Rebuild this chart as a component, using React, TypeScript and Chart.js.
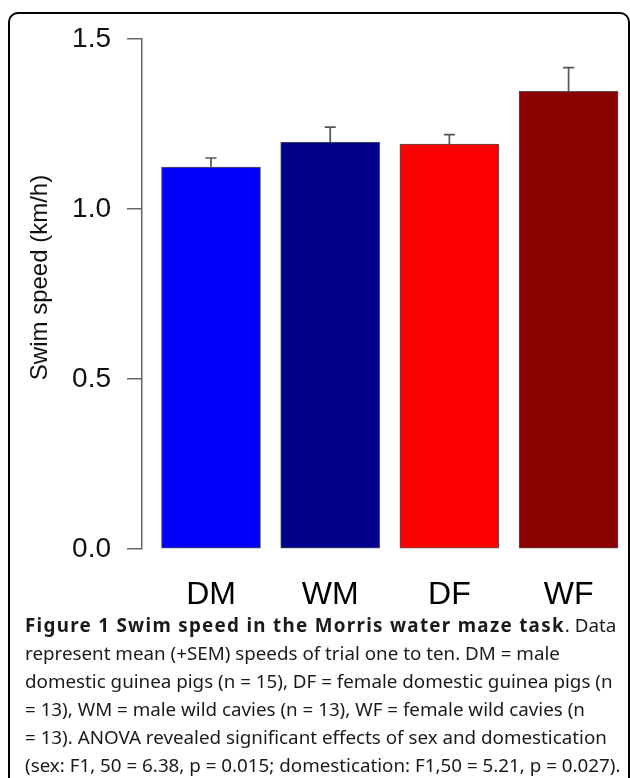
import React, { useEffect, useRef } from 'react';
import { Chart, registerables } from 'chart.js';

Chart.register(...registerables);

const categories = ['DM', 'WM', 'DF', 'WF'];
const means = [1.123, 1.197, 1.191, 1.346];
const sems = [0.027, 0.044, 0.028, 0.07];
const barColors = ['#0000FF', '#00008B', '#FF0000', '#8B0000'];
const yTickValues = [0, 0.5, 1.0, 1.5];
const yTitle = 'Swim speed (km/h)';

const captionLines: { bold?: string; text: string }[] = [
  { bold: 'Figure 1 Swim speed in the Morris water maze task', text: '. Data' },
  { text: 'represent mean (+SEM) speeds of trial one to ten. DM = male' },
  { text: 'domestic guinea pigs (n = 15), DF = female domestic guinea pigs (n' },
  { text: '= 13), WM = male wild cavies (n = 13), WF = female wild cavies (n' },
  { text: '= 13). ANOVA revealed significant effects of sex and domestication' },
  { text: '(sex: F1, 50 = 6.38, p = 0.015; domestication: F1,50 = 5.21, p = 0.027).' },
];

const errorBarPlugin = {
  id: 'errorBars',
  afterDatasetsDraw(chart: any) {
    const { ctx, scales } = chart;
    const xs = scales.x;
    const ys = scales.y;
    ctx.save();
    ctx.strokeStyle = '#555';
    ctx.lineWidth = 1.7;
    means.forEach((m, i) => {
      const x = xs.getPixelForValue(i);
      const y0 = ys.getPixelForValue(m);
      const y1 = ys.getPixelForValue(m + sems[i]);
      ctx.beginPath();
      ctx.moveTo(x, y0);
      ctx.lineTo(x, y1);
      ctx.moveTo(x - 5.5, y1);
      ctx.lineTo(x + 5.5, y1);
      ctx.stroke();
    });
    ctx.restore();
  },
};

const yTitlePlugin = {
  id: 'yTitleCustom',
  afterDraw(chart: any) {
    const { ctx } = chart;
    ctx.save();
    ctx.translate(40, 277.5);
    ctx.rotate(-Math.PI / 2);
    ctx.font = '24px "Liberation Sans", Arial, sans-serif';
    ctx.fillStyle = '#111';
    ctx.textAlign = 'center';
    ctx.textBaseline = 'middle';
    ctx.fillText(yTitle, 0, 0);
    ctx.restore();
  },
};

export default function App() {
  const canvasRef = useRef<HTMLCanvasElement | null>(null);

  useEffect(() => {
    if (!canvasRef.current) return;
    const chart = new Chart(canvasRef.current, {
      type: 'bar',
      data: {
        datasets: [
          {
            data: means.map((v, i) => ({ x: i, y: v })),
            backgroundColor: barColors,
            borderColor: '#555',
            borderWidth: 1,
            borderSkipped: false,
            barThickness: 99,
          } as any,
        ],
      },
      plugins: [errorBarPlugin, yTitlePlugin],
      options: {
        animation: false,
        responsive: false,
        devicePixelRatio: 1,
        layout: { padding: { top: 39, left: 0, right: 1, bottom: 0 } },
        plugins: {
          legend: { display: false },
          tooltip: { enabled: false },
        },
        scales: {
          x: {
            type: 'linear',
            offset: false,
            min: -0.579,
            max: 3.507,
            grid: { display: false, drawTicks: false, offset: false },
            border: { display: false },
            afterBuildTicks: (scale: any) => {
              scale.ticks = categories.map((_, i) => ({ value: i }));
            },
            afterFit: (scale: any) => {
              scale.height = 71;
            },
            ticks: {
              autoSkip: false,
              maxRotation: 0,
              padding: 27,
              color: '#000',
              font: { family: '"Liberation Sans", Arial, sans-serif', size: 32 },
              callback: (v: any) => categories[v] ?? '',
            },
          },
          y: {
            type: 'linear',
            min: 0,
            max: 1.5,
            grid: {
              display: true,
              drawOnChartArea: false,
              drawTicks: true,
              tickLength: 15,
              color: '#666',
              lineWidth: 1.5,
            },
            border: { display: true, color: '#666', width: 1.5 },
            afterBuildTicks: (scale: any) => {
              scale.ticks = yTickValues.map((v) => ({ value: v }));
            },
            afterFit: (scale: any) => {
              scale.width = 142;
            },
            ticks: {
              padding: 16,
              color: '#111',
              font: { family: '"Liberation Sans", Arial, sans-serif', size: 28 },
              callback: (v: any) => Number(v).toFixed(1),
            },
          },
        },
      } as any,
    });
    return () => chart.destroy();
  }, []);

  return (
    <div
      style={{
        position: 'absolute',
        left: 0,
        top: 0,
        width: 630,
        height: 778,
        overflow: 'hidden',
        background: '#fff',
      }}
    >
      <div
        style={{
          position: 'absolute',
          left: 8,
          top: 12,
          width: 622,
          height: 820,
          border: '2px solid #000',
          borderRadius: 10,
          boxSizing: 'border-box',
        }}
      />
      <canvas
        ref={canvasRef}
        width={630}
        height={620}
        style={{ position: 'absolute', left: 0, top: 0, width: 630, height: 620 }}
      />
      <div
        style={{
          position: 'absolute',
          left: 25,
          top: 611,
          fontFamily: '"Noto Sans", "Open Sans", sans-serif',
          fontSize: 18.8,
          lineHeight: '28.1px',
          color: '#1a1a1a',
          whiteSpace: 'nowrap',
        }}
      >
        {captionLines.map((l, i) => (
          <div key={i}>
            {l.bold ? <b style={{ letterSpacing: '1.3px' }}>{l.bold}</b> : null}
            {l.text}
          </div>
        ))}
      </div>
    </div>
  );
}
